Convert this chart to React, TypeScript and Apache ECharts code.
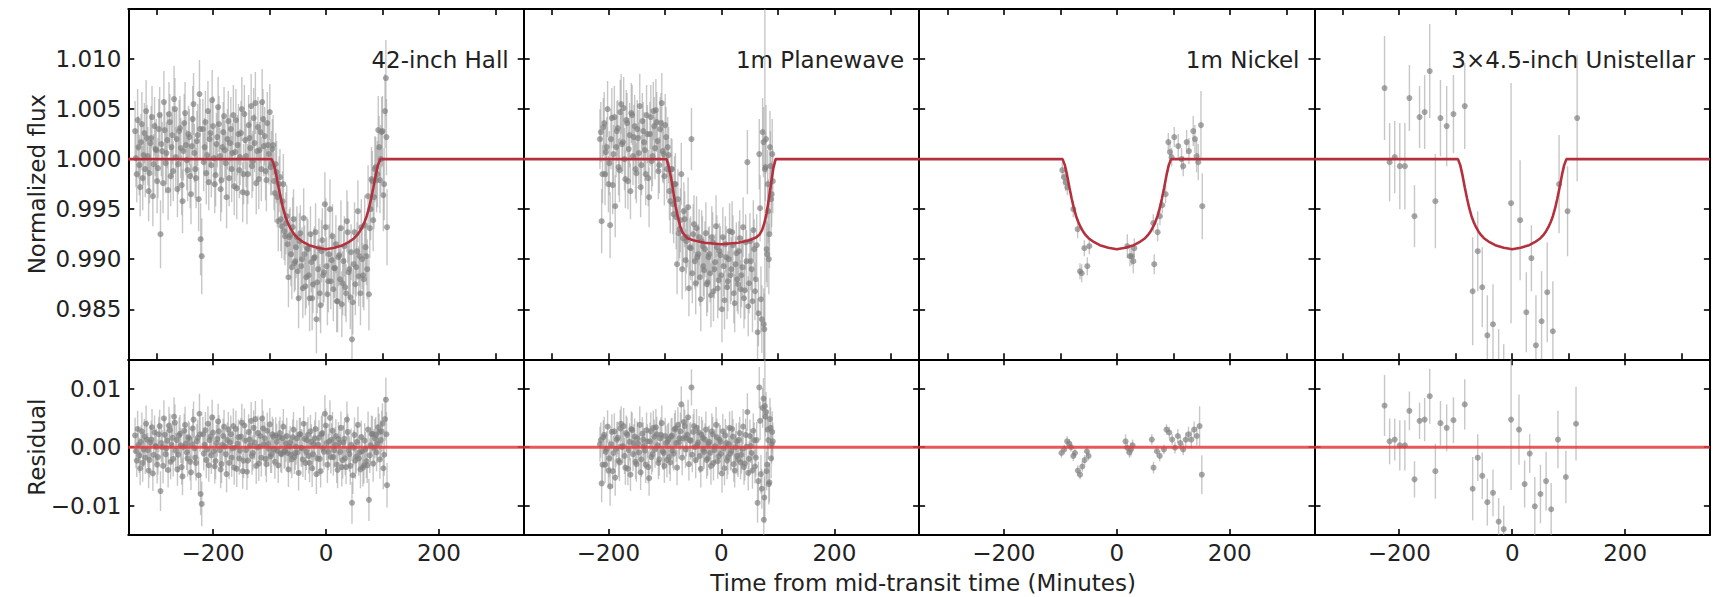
import React, { useEffect, useRef } from "react";
import * as echarts from "echarts";

const instruments = ["42-inch Hall", "1m Planewave", "1m Nickel", "3×4.5-inch Unistellar"];
const xRange = [-350, 350];
const fluxRange = [0.98, 1.015];
const residualRange = [-0.015, 0.015];
const xTicksTop = [-300, -200, -100, 0, 100, 200, 300];
const xTicksBottom = [-200, 0, 200];
const fluxTicks = [0.985, 0.99, 0.995, 1.0, 1.005, 1.01];
const residualTicks = [-0.01, 0, 0.01];
const xTitle = "Time from mid-transit time (Minutes)";
const fluxTitle = "Normalized flux";
const residualTitle = "Residual";

// [time (min), normalized flux, residual, error]
const hallData = [
  [-338, 1.0028, 0.002, 0.003], [-335, 0.9985, -0.0023, 0.0028], [-332, 1.0012, 0.0004, 0.0031], [-329, 0.9972, -0.0036, 0.0029],
  [-326, 1.0035, 0.0027, 0.0032], [-323, 1.0004, -0.0004, 0.003], [-320, 0.999, -0.0018, 0.0028], [-317, 1.0021, 0.0013, 0.0033],
  [-314, 0.9968, -0.004, 0.003], [-311, 1.0016, 0.0008, 0.0029], [-308, 1.0042, 0.0034, 0.0031], [-305, 0.9995, -0.0013, 0.003],
  [-302, 1.001, 0.0002, 0.0027], [-299, 0.9978, -0.003, 0.0032], [-296, 1.003, 0.0022, 0.003], [-293, 0.9925, -0.0075, 0.0034],
  [-290, 1.0008, 0.0, 0.0029], [-287, 1.0057, 0.0049, 0.0031], [-284, 0.9996, -0.0012, 0.003], [-281, 1.0019, 0.0011, 0.0028],
  [-278, 1.0045, 0.0037, 0.0032], [-275, 0.9983, -0.0025, 0.003], [-272, 1.0024, 0.0016, 0.0029], [-269, 1.006, 0.0052, 0.0033],
  [-266, 1.0002, -0.0006, 0.003], [-263, 0.997, -0.0038, 0.0028], [-260, 1.0028, 0.002, 0.0031], [-257, 1.0011, 0.0003, 0.003],
  [-254, 0.9958, -0.005, 0.0032], [-251, 1.0036, 0.0028, 0.0029], [-248, 1.0014, 0.0006, 0.003], [-245, 0.9989, -0.0019, 0.0031],
  [-242, 1.0022, 0.0014, 0.0028], [-239, 0.9965, -0.0043, 0.003], [-236, 1.004, 0.0032, 0.0033], [-233, 1.0006, -0.0002, 0.0029],
  [-230, 0.9981, -0.0027, 0.003], [-227, 1.0024, 0.0016, 0.0031], [-224, 1.0065, 0.0057, 0.0034], [-222, 0.992, -0.008, 0.0036],
  [-220, 0.9903, -0.0097, 0.0038], [-218, 1.003, 0.0022, 0.003], [-215, 1.0012, 0.0004, 0.0029], [-212, 0.9986, -0.0022, 0.0031],
  [-209, 1.0048, 0.004, 0.003], [-206, 1.002, 0.0012, 0.0028], [-203, 0.9994, -0.0014, 0.0032], [-200, 1.0033, 0.0025, 0.003],
  [-197, 0.9975, -0.0033, 0.0029], [-194, 1.0015, 0.0007, 0.0031], [-191, 1.0052, 0.0044, 0.003], [-188, 1.0003, -0.0005, 0.0028],
  [-185, 0.9979, -0.0029, 0.0032], [-182, 1.0027, 0.0019, 0.003], [-179, 1.0009, 0.0001, 0.0029], [-176, 0.9962, -0.0046, 0.0031],
  [-173, 1.0038, 0.003, 0.003], [-170, 1.0016, 0.0008, 0.0028], [-167, 0.999, -0.0018, 0.0033], [-164, 1.0044, 0.0036, 0.003],
  [-161, 1.0007, -0.0001, 0.0029], [-158, 0.9971, -0.0037, 0.0031], [-155, 1.0025, 0.0017, 0.003], [-152, 1.0002, -0.0006, 0.0028],
  [-149, 1.005, 0.0042, 0.0032], [-146, 0.9985, -0.0023, 0.003], [-143, 1.0019, 0.0011, 0.0029], [-140, 0.9966, -0.0042, 0.0031],
  [-137, 1.0034, 0.0026, 0.003], [-134, 1.0011, 0.0003, 0.0028], [-131, 0.9993, -0.0015, 0.0032], [-128, 1.0041, 0.0033, 0.003],
  [-125, 1.0056, 0.0048, 0.0031], [-122, 1.0008, 0.0, 0.0029], [-119, 0.998, -0.0028, 0.003], [-116, 1.0027, 0.0019, 0.0031],
  [-113, 1.0057, 0.0049, 0.0033], [-110, 1.0013, 0.0005, 0.003], [-107, 0.9988, -0.002, 0.0029], [-104, 1.0036, 0.0028, 0.0031],
  [-101, 1.0005, -0.0003, 0.003], [-98, 0.9992, -0.0016, 0.0028], [-95, 1.001, 0.0022, 0.003], [-92, 0.9978, -0.0004, 0.0029],
  [-89, 0.9995, 0.002, 0.0031], [-86, 0.9962, -0.0006, 0.003], [-83, 0.9975, 0.0017, 0.0028], [-80, 0.994, -0.0011, 0.0032],
  [-77, 0.9958, 0.0015, 0.003], [-74, 0.9928, -0.0008, 0.0029], [-71, 0.9936, 0.0006, 0.0031], [-68, 0.9915, -0.001, 0.003],
  [-65, 0.9922, 0.0001, 0.0028], [-62, 0.9905, -0.0013, 0.0032], [-59, 0.9932, 0.0017, 0.003], [-56, 0.9896, -0.0017, 0.0029],
  [-53, 0.9912, 0.0001, 0.0031], [-50, 0.9888, -0.0009, 0.003], [-47, 0.9918, 0.0022, 0.0028], [-44, 0.9893, -0.0001, 0.0032],
  [-41, 0.9871, -0.0021, 0.003], [-38, 0.9905, 0.0014, 0.0029], [-35, 0.9882, -0.0008, 0.0031], [-32, 0.991, 0.0021, 0.003],
  [-29, 0.9861, -0.0027, 0.0033], [-26, 0.9897, 0.0009, 0.003], [-23, 0.9875, -0.0012, 0.0029], [-20, 0.9902, 0.0015, 0.0031],
  [-17, 0.984, -0.0046, 0.0034], [-14, 0.989, 0.0004, 0.003], [-11, 0.9866, -0.002, 0.0029], [-8, 0.9908, 0.0022, 0.0031],
  [-5, 0.9884, -0.0002, 0.003], [-2, 0.9955, 0.0057, 0.0032], [1, 0.9893, 0.0007, 0.0029], [4, 0.9878, -0.0008, 0.0031],
  [7, 0.995, 0.005, 0.003], [10, 0.9899, 0.0013, 0.0028], [13, 0.987, -0.0017, 0.0032], [16, 0.9891, 0.0004, 0.003],
  [19, 0.9858, -0.003, 0.0031], [22, 0.9902, 0.0014, 0.0029], [25, 0.988, -0.0008, 0.003], [28, 0.9855, -0.0034, 0.0033],
  [31, 0.9898, 0.0008, 0.003], [34, 0.9872, -0.0019, 0.0029], [37, 0.9938, 0.0047, 0.0031], [40, 0.9887, -0.0005, 0.003],
  [43, 0.9862, -0.0032, 0.0032], [46, 0.982, -0.0095, 0.0036], [49, 0.9895, -0.0001, 0.003], [52, 0.9875, -0.0023, 0.0031],
  [55, 0.9908, 0.0009, 0.0029], [58, 0.9883, -0.0019, 0.003], [61, 0.9866, -0.0038, 0.0032], [64, 0.99, -0.0007, 0.003],
  [67, 0.988, -0.0031, 0.0031], [70, 0.9912, -0.0003, 0.0029], [73, 0.989, -0.0031, 0.003], [76, 0.9865, -0.009, 0.0036],
  [79, 0.995, 0.0003, 0.0031], [82, 0.9978, 0.0023, 0.003], [85, 0.9962, -0.0001, 0.0032], [88, 0.9992, 0.0021, 0.003],
  [91, 0.9985, 0.0006, 0.0033], [94, 1.0012, 0.0026, 0.0031], [97, 1.0, 0.0012, 0.0034], [100, 1.0028, 0.004, 0.0035],
  [103, 0.9975, -0.0013, 0.0036], [106, 1.0081, 0.0081, 0.0038], [108, 0.9932, -0.0065, 0.0038],
  [-336.5, 1.0001, -0.0007, 0.0029], [-333.5, 1.0039, 0.0031, 0.0031], [-330.5, 0.9994, -0.0014, 0.003], [-327.5, 1.0017, 0.0009, 0.0028],
  [-324.5, 0.9981, -0.0027, 0.0032], [-321.5, 1.0026, 0.0018, 0.003], [-318.5, 1.0048, 0.004, 0.0031], [-315.5, 1.0003, -0.0005, 0.0029],
  [-312.5, 0.9986, -0.0022, 0.003], [-309.5, 1.0021, 0.0013, 0.0032], [-306.5, 0.9963, -0.0045, 0.003], [-303.5, 1.0033, 0.0025, 0.0029],
  [-300.5, 1.0009, 0.0001, 0.0031], [-297.5, 0.9991, -0.0017, 0.003], [-294.5, 1.0044, 0.0036, 0.0028], [-291.5, 1.0015, 0.0007, 0.0032],
  [-288.5, 0.9976, -0.0032, 0.003], [-285.5, 1.0029, 0.0021, 0.0029], [-282.5, 1.0006, -0.0002, 0.0031], [-279.5, 0.9969, -0.0039, 0.003],
  [-276.5, 1.0037, 0.0029, 0.0028], [-273.5, 1.0012, 0.0004, 0.0032], [-270.5, 0.9988, -0.002, 0.003], [-267.5, 1.005, 0.0042, 0.0031],
  [-264.5, 1.002, 0.0012, 0.0029], [-261.5, 0.9995, -0.0013, 0.003], [-258.5, 1.0031, 0.0023, 0.0032], [-255.5, 0.9974, -0.0034, 0.003],
  [-252.5, 1.0008, 0.0, 0.0029], [-249.5, 1.0046, 0.0038, 0.0031], [-246.5, 0.9999, -0.0009, 0.003], [-243.5, 1.0025, 0.0017, 0.0028],
  [-240.5, 0.9983, -0.0025, 0.0032], [-237.5, 1.0013, 0.0005, 0.003], [-234.5, 1.0055, 0.0047, 0.0031], [-231.5, 0.999, -0.0018, 0.0029],
  [-228.5, 1.0018, 0.001, 0.003], [-225.5, 0.996, -0.0048, 0.0032], [-223, 1.003, 0.0022, 0.003], [-216.5, 0.9997, -0.0011, 0.0029],
  [-213.5, 1.0037, 0.0029, 0.0031], [-210.5, 1.0004, -0.0004, 0.003], [-207.5, 0.9977, -0.0031, 0.0028], [-204.5, 1.0026, 0.0018, 0.0032],
  [-201.5, 1.0059, 0.0051, 0.003], [-198.5, 1.0001, -0.0007, 0.0029], [-195.5, 0.9984, -0.0024, 0.0031], [-192.5, 1.0022, 0.0014, 0.003],
  [-189.5, 1.0035, 0.0027, 0.0028], [-186.5, 0.997, -0.0038, 0.0032], [-183.5, 1.0012, 0.0004, 0.003], [-180.5, 1.0043, 0.0035, 0.0029],
  [-177.5, 0.9996, -0.0012, 0.0031], [-174.5, 1.002, 0.0012, 0.003], [-171.5, 0.9981, -0.0027, 0.0028], [-168.5, 1.003, 0.0022, 0.0032],
  [-165.5, 1.0006, -0.0002, 0.003], [-162.5, 0.9973, -0.0035, 0.0029], [-159.5, 1.0039, 0.0031, 0.0031], [-156.5, 1.0014, 0.0006, 0.003],
  [-153.5, 0.9989, -0.0019, 0.0028], [-150.5, 1.0026, 0.0018, 0.0032], [-147.5, 0.9967, -0.0041, 0.003], [-144.5, 1.0045, 0.0037, 0.0029],
  [-141.5, 1.0003, -0.0005, 0.0031], [-138.5, 0.9985, -0.0023, 0.003], [-135.5, 1.0021, 0.0013, 0.0028], [-132.5, 1.0053, 0.0045, 0.0032],
  [-129.5, 0.9998, -0.001, 0.003], [-126.5, 1.0016, 0.0008, 0.0029], [-123.5, 0.9976, -0.0032, 0.0031], [-120.5, 1.0032, 0.0024, 0.003],
  [-117.5, 1.0009, 0.0001, 0.0028], [-114.5, 0.999, -0.0018, 0.0032], [-111.5, 1.004, 0.0032, 0.003], [-108.5, 1.0023, 0.0015, 0.0029],
  [-105.5, 0.9979, -0.0029, 0.0031], [-102.5, 1.0014, 0.0006, 0.003], [-99.5, 1.0047, 0.0039, 0.0028], [-96.5, 0.9996, -0.0012, 0.0032],
  [-93.5, 1.0014, 0.0018, 0.003], [-90.5, 0.9966, -0.0025, 0.0029], [-87.5, 0.9987, 0.0009, 0.0031], [-84.5, 0.9938, -0.0031, 0.003],
  [-81.5, 0.9982, 0.0024, 0.0028], [-78.5, 0.9933, -0.0012, 0.0032], [-75.5, 0.9975, 0.0035, 0.003], [-72.5, 0.9923, -0.0006, 0.0029],
  [-69.5, 0.9943, 0.0019, 0.0031], [-66.5, 0.9882, -0.0038, 0.003], [-63.5, 0.9924, 0.0008, 0.0028], [-60.5, 0.9892, -0.0021, 0.0032],
  [-57.5, 0.994, 0.003, 0.003], [-54.5, 0.9898, -0.001, 0.0029], [-51.5, 0.9922, 0.0015, 0.0031], [-48.5, 0.9861, -0.0044, 0.003],
  [-45.5, 0.9926, 0.0022, 0.0028], [-42.5, 0.99, -0.0002, 0.0032], [-39.5, 0.9941, 0.004, 0.003], [-36.5, 0.9873, -0.0027, 0.0029],
  [-33.5, 0.9911, 0.0012, 0.0031], [-30.5, 0.9884, -0.0015, 0.003], [-27.5, 0.9925, 0.0027, 0.0028], [-24.5, 0.9861, -0.0036, 0.0032],
  [-21.5, 0.9901, 0.0005, 0.003], [-18.5, 0.9927, 0.0031, 0.0029], [-15.5, 0.9877, -0.0019, 0.0031], [-12.5, 0.9911, 0.0016, 0.003],
  [-9.5, 0.9854, -0.0041, 0.0028], [-6.5, 0.9919, 0.0024, 0.0032], [-3.5, 0.9887, -0.0008, 0.003], [-0.5, 0.9932, 0.0037, 0.0029],
  [2.5, 0.9865, -0.003, 0.0031], [5.5, 0.9905, 0.001, 0.003], [8.5, 0.9878, -0.0017, 0.0028], [11.5, 0.9923, 0.0028, 0.0032],
  [14.5, 0.9891, -0.0005, 0.003], [17.5, 0.9915, 0.0019, 0.0029], [20.5, 0.9858, -0.0039, 0.0031], [23.5, 0.9904, 0.0007, 0.003],
  [26.5, 0.9931, 0.0033, 0.0028], [29.5, 0.9876, -0.0022, 0.0032], [32.5, 0.9913, 0.0014, 0.003], [35.5, 0.9866, -0.0034, 0.0029],
  [38.5, 0.9927, 0.0026, 0.0031], [41.5, 0.989, -0.0012, 0.003], [44.5, 0.9907, 0.0004, 0.0028], [47.5, 0.9857, -0.0048, 0.0032],
  [50.5, 0.9927, 0.0021, 0.003], [53.5, 0.9892, -0.0016, 0.0029], [56.5, 0.9948, 0.0038, 0.0031], [59.5, 0.9903, -0.0009, 0.003],
  [62.5, 0.9932, 0.0017, 0.0028], [65.5, 0.9884, -0.0035, 0.0032], [68.5, 0.9934, 0.0011, 0.003], [71.5, 0.9903, -0.0024, 0.0029],
  [74.5, 0.9963, 0.003, 0.0031], [77.5, 0.9931, -0.0014, 0.003], [80.5, 0.998, 0.0022, 0.0032], [83.5, 0.9939, -0.0028, 0.0031],
  [86.5, 0.999, 0.0015, 0.0033], [89.5, 0.9979, -0.0009, 0.0032], [92.5, 1.0029, 0.0034, 0.0034], [95.5, 0.9979, -0.0021, 0.0033],
  [98.5, 1.0027, 0.0027, 0.0035], [101.5, 0.9964, -0.0036, 0.0036], [104.5, 1.0048, 0.0048, 0.0037], [107, 1.0022, 0.0022, 0.0038],
];

// [time (min), normalized flux, residual, error]
const planewaveData = [
  [-215, 1.002, 0.0005, 0.003], [-212, 0.9938, -0.0062, 0.0032], [-209, 1.0032, 0.0017, 0.0029], [-206, 0.9985, -0.003, 0.0031],
  [-203, 1.0012, -0.0003, 0.003], [-200, 0.9975, -0.004, 0.0028], [-197, 0.9934, -0.0067, 0.0033], [-194, 1.0041, 0.0026, 0.003],
  [-191, 1.0005, -0.001, 0.0029], [-188, 0.9953, -0.0052, 0.0031], [-185, 1.0028, 0.0013, 0.003], [-182, 0.9992, -0.0023, 0.0028],
  [-179, 1.0047, 0.0032, 0.0032], [-176, 1.0015, 0.0, 0.003], [-173, 1.0051, 0.0036, 0.0031], [-170, 0.998, -0.0035, 0.0029],
  [-167, 1.0036, 0.0021, 0.003], [-164, 1.001, -0.0005, 0.0031], [-161, 0.9968, -0.0047, 0.0028], [-158, 1.0044, 0.0029, 0.003],
  [-155, 1.0022, 0.0007, 0.0032], [-152, 0.999, -0.0025, 0.003], [-149, 1.003, 0.0015, 0.0029], [-146, 1.0006, -0.0009, 0.0031],
  [-143, 0.9972, -0.0043, 0.003], [-140, 1.0038, 0.0023, 0.0028], [-137, 1.0017, 0.0002, 0.003], [-134, 0.9985, -0.003, 0.0031],
  [-131, 1.0025, 0.001, 0.0029], [-128, 0.9962, -0.0053, 0.003], [-125, 1.0042, 0.0027, 0.0032], [-122, 1.0003, -0.0012, 0.003],
  [-119, 1.0033, 0.0018, 0.0029], [-116, 1.0049, 0.0034, 0.0031], [-113, 1.0018, 0.0003, 0.003], [-110, 0.9994, -0.0021, 0.0028],
  [-107, 1.0036, 0.0021, 0.003], [-104, 1.0008, -0.0007, 0.0031], [-101, 0.9983, -0.0032, 0.0029], [-98, 1.0022, 0.0007, 0.003],
  [-95, 1.0012, 0.001, 0.003], [-92, 0.9968, -0.0017, 0.0029], [-89, 0.999, 0.0018, 0.0031], [-86, 0.9955, -0.0006, 0.003],
  [-83, 0.9975, 0.003, 0.0028], [-80, 0.9942, 0.0007, 0.0032], [-77, 0.996, 0.0038, 0.003], [-74, 0.993, 0.0015, 0.0029],
  [-71, 0.9985, 0.0073, 0.0031], [-68, 0.9921, 0.0015, 0.003], [-65, 0.994, 0.0036, 0.0028], [-62, 0.9918, 0.0016, 0.0032],
  [-59, 0.9952, 0.0051, 0.003], [-56, 0.9912, 0.0012, 0.0029], [-53, 1.002, 0.0102, 0.0031], [-50, 0.9925, 0.0026, 0.003],
  [-47, 0.9898, 0.0, 0.0028], [-44, 0.9931, 0.0033, 0.0032], [-41, 0.9905, 0.0008, 0.003], [-38, 0.9882, -0.0015, 0.0029],
  [-35, 0.9918, 0.0021, 0.0031], [-32, 0.9893, -0.0004, 0.003], [-29, 0.991, 0.0013, 0.0028], [-26, 0.9875, -0.0022, 0.0032],
  [-23, 0.9902, 0.0006, 0.003], [-20, 0.9886, -0.001, 0.0029], [-17, 0.9922, 0.0027, 0.0031], [-14, 0.9868, -0.0027, 0.003],
  [-11, 0.9897, 0.0002, 0.0028], [-8, 0.9912, 0.0017, 0.0032], [-5, 0.9879, -0.0016, 0.003], [-2, 0.9904, 0.0009, 0.0029],
  [1, 0.985, -0.0045, 0.0033], [4, 0.9893, -0.0002, 0.003], [7, 0.9915, 0.002, 0.0028], [10, 0.9872, -0.0023, 0.0032],
  [13, 0.99, 0.0005, 0.003], [16, 0.9884, -0.0011, 0.0029], [19, 0.9927, 0.0031, 0.0031], [22, 0.9866, -0.0029, 0.003],
  [25, 0.9895, 0.0, 0.0028], [28, 0.988, -0.0015, 0.0032], [31, 0.9908, 0.0012, 0.003], [34, 0.987, -0.0026, 0.0029],
  [37, 0.9892, -0.0003, 0.0031], [40, 0.9861, -0.0034, 0.003], [43, 0.9917, 0.0021, 0.0028], [46, 0.9997, 0.006, 0.0032],
  [49, 0.9876, -0.002, 0.003], [52, 0.9898, 0.0002, 0.0029], [55, 0.9858, -0.004, 0.0031], [58, 0.991, 0.0012, 0.003],
  [61, 0.988, -0.0018, 0.0032], [64, 0.9827, -0.0095, 0.0034], [67, 1.0005, 0.0102, 0.0035], [70, 0.986, -0.0046, 0.0033],
  [73, 1.0027, 0.0067, 0.0034], [75, 0.9835, -0.0124, 0.0036], [77, 0.999, 0.007, 0.02], [79, 1.002, 0.006, 0.0034],
  [81, 0.9905, -0.003, 0.0033], [83, 0.9948, 0.0012, 0.0032], [85, 0.9925, -0.006, 0.0034], [87, 0.9993, 0.0033, 0.0035],
  [89, 0.9965, 0.0005, 0.0033], [91, 0.9978, 0.001, 0.0032],
  [-213.5, 1.0027, 0.0012, 0.003], [-210.5, 0.9985, -0.003, 0.0029], [-207.5, 1.0036, 0.0021, 0.0031], [-204.5, 1.0007, -0.0008, 0.003],
  [-201.5, 1.005, 0.0035, 0.0028], [-198.5, 0.9996, -0.0019, 0.0032], [-195.5, 1.002, 0.0005, 0.003], [-192.5, 0.9974, -0.0041, 0.0029],
  [-189.5, 1.0042, 0.0027, 0.0031], [-186.5, 1.0012, -0.0003, 0.003], [-183.5, 1.0031, 0.0016, 0.0028], [-180.5, 0.9989, -0.0026, 0.0032],
  [-177.5, 1.0055, 0.004, 0.003], [-174.5, 1.0017, 0.0002, 0.0029], [-171.5, 1.0, -0.0015, 0.0031], [-168.5, 1.0039, 0.0024, 0.003],
  [-165.5, 0.9978, -0.0037, 0.0028], [-162.5, 1.0024, 0.0009, 0.0032], [-159.5, 1.0046, 0.0031, 0.003], [-156.5, 1.0003, -0.0012, 0.0029],
  [-153.5, 1.0033, 0.0018, 0.0031], [-150.5, 0.9986, -0.0029, 0.003], [-147.5, 1.0021, 0.0006, 0.0028], [-144.5, 1.0053, 0.0038, 0.0032],
  [-141.5, 0.9994, -0.0021, 0.003], [-138.5, 1.0028, 0.0013, 0.0029], [-135.5, 1.0009, -0.0006, 0.0031], [-132.5, 1.0044, 0.0029, 0.003],
  [-129.5, 0.9981, -0.0034, 0.0028], [-126.5, 1.0025, 0.001, 0.0032], [-123.5, 0.9998, -0.0017, 0.003], [-120.5, 1.0048, 0.0033, 0.0029],
  [-117.5, 1.0011, -0.0004, 0.0031], [-114.5, 1.0037, 0.0022, 0.003], [-111.5, 0.9988, -0.0027, 0.0028], [-108.5, 1.003, 0.0015, 0.0032],
  [-105.5, 1.0056, 0.0041, 0.003], [-102.5, 1.0005, -0.001, 0.0029], [-99.5, 1.0034, 0.0019, 0.0031], [-96.5, 0.999, -0.0022, 0.003],
  [-93.5, 1.0004, 0.0014, 0.0028], [-90.5, 0.9958, -0.0026, 0.0032], [-87.5, 0.999, 0.002, 0.003], [-84.5, 0.9945, -0.0011, 0.0029],
  [-81.5, 0.9975, 0.0032, 0.0031], [-78.5, 0.9895, -0.0035, 0.003], [-75.5, 0.9926, 0.0008, 0.0028], [-72.5, 0.9939, 0.0027, 0.0032],
  [-69.5, 0.989, -0.0018, 0.003], [-66.5, 0.9948, 0.0043, 0.0029], [-63.5, 0.9899, -0.0004, 0.0031], [-60.5, 0.9922, 0.0021, 0.003],
  [-57.5, 0.9871, -0.0029, 0.0028], [-54.5, 0.9911, 0.0011, 0.0032], [-51.5, 0.9886, -0.0013, 0.003], [-48.5, 0.9935, 0.0036, 0.0029],
  [-45.5, 0.9876, -0.0022, 0.0031], [-42.5, 0.9902, 0.0004, 0.003], [-39.5, 0.9922, 0.0025, 0.0028], [-36.5, 0.986, -0.0037, 0.0032],
  [-33.5, 0.9913, 0.0016, 0.003], [-30.5, 0.9889, -0.0008, 0.0029], [-27.5, 0.9926, 0.003, 0.0031], [-24.5, 0.9877, -0.0019, 0.003],
  [-21.5, 0.9905, 0.0009, 0.0028], [-18.5, 0.9864, -0.0032, 0.0032], [-15.5, 0.9917, 0.0022, 0.003], [-12.5, 0.989, -0.0005, 0.0029],
  [-9.5, 0.9933, 0.0038, 0.0031], [-6.5, 0.9871, -0.0024, 0.003], [-3.5, 0.9908, 0.0013, 0.0028], [-0.5, 0.9884, -0.0011, 0.0032],
  [2.5, 0.9922, 0.0027, 0.003], [5.5, 0.9859, -0.0036, 0.0029], [8.5, 0.9902, 0.0007, 0.0031], [11.5, 0.9878, -0.0017, 0.003],
  [14.5, 0.9928, 0.0033, 0.0028], [17.5, 0.989, -0.0006, 0.0032], [20.5, 0.9914, 0.0018, 0.003], [23.5, 0.9856, -0.004, 0.0029],
  [26.5, 0.9906, 0.001, 0.0031], [29.5, 0.9875, -0.0021, 0.003], [32.5, 0.9921, 0.0024, 0.0028], [35.5, 0.9884, -0.0013, 0.0032],
  [38.5, 0.9932, 0.0035, 0.003], [41.5, 0.9869, -0.0028, 0.0029], [44.5, 0.9898, 0.0001, 0.0031], [47.5, 0.9853, -0.0044, 0.003],
  [50.5, 0.9918, 0.0019, 0.0028], [53.5, 0.989, -0.001, 0.0032], [56.5, 0.9929, 0.0028, 0.003], [59.5, 0.9868, -0.0033, 0.0029],
  [62.5, 0.9914, 0.0012, 0.0031], [65.5, 0.9846, -0.0058, 0.0033], [68.5, 0.9951, 0.0045, 0.0033], [71.5, 0.984, -0.0071, 0.0034],
  [74.5, 1.0017, 0.0083, 0.0035], [76, 0.983, -0.0086, 0.0036], [78, 0.9992, 0.0052, 0.0034], [80, 0.991, -0.0041, 0.0033],
  [82, 0.9975, 0.003, 0.0034], [84, 0.99, -0.0063, 0.0035], [86, 1.0012, 0.0048, 0.0036], [88, 0.996, -0.0019, 0.0034],
  [90, 1.0005, 0.0026, 0.0035],
];

// [time (min), normalized flux, error]
const nickelFlux = [
  [-96.5, 0.9989, 0.0008], [-93.5, 0.9982, 0.0008], [-90.6, 0.9977, 0.0009], [-87.6, 0.9972, 0.0008],
  [-77, 0.995, 0.0008], [-69.3, 0.993, 0.0009], [-65.2, 0.9888, 0.0008], [-62.2, 0.9886, 0.0009],
  [-57.5, 0.9911, 0.0008], [-52.2, 0.9893, 0.0009], [-48.7, 0.9913, 0.0008], [18.6, 0.9913, 0.0012],
  [23.3, 0.9903, 0.001], [26.3, 0.9903, 0.0009], [29.2, 0.9898, 0.0012], [31, 0.9911, 0.001],
  [64.6, 0.9936, 0.0009], [66.3, 0.9895, 0.001], [72.3, 0.9927, 0.0009], [76.4, 0.9943, 0.0009],
  [80.5, 0.9954, 0.0008], [86.4, 0.9965, 0.0009], [91.2, 1.0017, 0.0009], [94.1, 1.0007, 0.001],
  [97, 1.0002, 0.0009], [101.7, 1.0022, 0.001], [108.8, 1.0013, 0.0012], [114.7, 1.0, 0.0011],
  [117.6, 0.9993, 0.001], [123.6, 1.0017, 0.0012], [127.7, 1.0008, 0.0013], [135.3, 1.0028, 0.0015],
  [138.3, 1.002, 0.0014], [141.3, 1.0003, 0.0016], [144.2, 0.9997, 0.0018], [149, 1.0034, 0.0034],
  [151.3, 0.9953, 0.0033],
];
// [time (min), residual, error]
const nickelResidual = [
  [-98, -0.001, 0.0008], [-93, -0.0004, 0.0008], [-88, 0.001, 0.0009], [-84, 0.0006, 0.0008],
  [-81, 0.0, 0.0008], [-77, -0.0015, 0.0009], [-74, -0.001, 0.0008], [-69, -0.004, 0.0009],
  [-65, -0.0047, 0.0008], [-61, -0.0033, 0.0009], [-57, -0.0022, 0.0008], [-53, -0.0007, 0.0009],
  [-50, -0.0015, 0.0008], [15.5, 0.001, 0.0012], [18.4, -0.0001, 0.001], [22.3, -0.0009, 0.0009],
  [25, -0.0004, 0.0012], [28, 0.0003, 0.001], [62, 0.0013, 0.0009], [65, -0.0035, 0.001],
  [71, -0.0007, 0.0009], [76, -0.0015, 0.0009], [83.5, -0.0004, 0.0008], [88, 0.003, 0.0009],
  [93, 0.0025, 0.001], [98, 0.0013, 0.0009], [103, -0.0001, 0.001], [108, 0.0019, 0.0012],
  [112.6, 0.0007, 0.0011], [117.5, -0.0004, 0.001], [122, 0.0013, 0.0012], [127, 0.0022, 0.0013],
  [132, 0.0013, 0.0015], [136.9, 0.003, 0.0014], [141.7, 0.0019, 0.0016], [146.6, 0.0036, 0.0034],
  [150.5, -0.0047, 0.0033],
];

// [time (min), normalized flux, error]
const unistellarFlux = [
  [-226, 1.0071, 0.0052], [-217, 0.9997, 0.0039], [-208, 1.0002, 0.0036], [-199, 0.9993, 0.0043],
  [-190, 0.9993, 0.0043], [-182, 1.0061, 0.0033], [-173, 0.9943, 0.0031], [-164, 1.0042, 0.0031],
  [-155, 1.0047, 0.0037], [-146, 1.0088, 0.0047], [-136, 0.9958, 0.0047], [-127, 1.0041, 0.0038],
  [-116, 1.0033, 0.004], [-104, 1.0045, 0.0039], [-84, 1.0053, 0.0043], [-70, 0.9868, 0.0054],
  [-61, 0.9908, 0.004], [-53, 0.9872, 0.004], [-44, 0.9824, 0.004], [-34, 0.9835, 0.004],
  [-24, 0.979, 0.004], [-15, 0.9775, 0.004], [-2, 0.9956, 0.012], [14, 0.9939, 0.006],
  [25, 0.9847, 0.004], [34, 0.9901, 0.0033], [42, 0.9814, 0.005], [52, 0.9838, 0.005],
  [62, 0.9867, 0.005], [72, 0.9828, 0.005], [83, 0.9975, 0.0049], [98, 0.9948, 0.0045],
  [115, 1.0041, 0.0063],
];
// [time (min), residual, error]
const unistellarResidual = [
  [-226, 0.0071, 0.0052], [-217, 0.001, 0.0039], [-208, 0.0013, 0.0036], [-199, 0.0003, 0.0043],
  [-190, 0.0003, 0.0043], [-182, 0.0062, 0.0033], [-173, -0.0055, 0.0031], [-164, 0.0045, 0.0031],
  [-155, 0.0047, 0.0037], [-146, 0.0087, 0.0047], [-136, -0.0041, 0.0047], [-127, 0.0041, 0.0038],
  [-116, 0.0033, 0.004], [-104, 0.0046, 0.0039], [-84, 0.0073, 0.0043], [-70, -0.0071, 0.0054],
  [-61, -0.0018, 0.004], [-53, -0.0049, 0.004], [-44, -0.0094, 0.004], [-34, -0.0078, 0.004],
  [-24, -0.0127, 0.004], [-15, -0.014, 0.004], [-2, 0.0047, 0.012], [12, 0.003, 0.006],
  [22, -0.0063, 0.004], [31, -0.0011, 0.0033], [40, -0.0101, 0.005], [50, -0.008, 0.005],
  [60, -0.0058, 0.005], [69, -0.0106, 0.0045], [81, 0.0013, 0.0049], [95, -0.0051, 0.0045],
  [113, 0.004, 0.0063],
];

// best-fit transit model [time, flux]
const transitModel = [
  [-350, 1.0], [-96, 1.0], [-92, 0.9994], [-88, 0.9984], [-84, 0.9972], [-80, 0.9961], [-76, 0.9951],
  [-72, 0.9943], [-68, 0.9937], [-64, 0.9932], [-60, 0.9928], [-55, 0.9924], [-50, 0.9921], [-40, 0.9917],
  [-30, 0.9914], [-15, 0.99115], [0, 0.991], [15, 0.99115], [30, 0.9914], [40, 0.9917], [50, 0.9921],
  [55, 0.9924], [60, 0.9928], [64, 0.9932], [68, 0.9937], [72, 0.9943], [76, 0.9951], [80, 0.9961],
  [84, 0.9972], [88, 0.9984], [92, 0.9994], [96, 1.0], [350, 1.0],
];
const planewaveModel = [
  [-350, 1.0], [-97, 1.0], [-93, 0.9992], [-89, 0.9981], [-85, 0.9967], [-81, 0.9953], [-77, 0.9942],
  [-73, 0.9933], [-69, 0.9927], [-65, 0.9924], [-60, 0.9921], [-50, 0.9919], [-30, 0.99165], [0, 0.9915],
  [30, 0.99165], [50, 0.9919], [62, 0.9922], [68, 0.9925], [72, 0.9929], [76, 0.9936], [80, 0.9946],
  [84, 0.996], [88, 0.9976], [92, 0.9991], [96, 1.0], [350, 1.0],
];
const zeroLine = [[-350, 0], [350, 0]];

const FONT = "DejaVu Sans";
const TEXT = "#222";
const L0 = 128.3;
const PW = 395.4;
const TOP = 9;
const TOP_H = 350.3;
const BOT_H = 175.7;

function minusFmt(s: string) {
  return s.replace("-", "\u2212");
}

export default function App() {
  const ref = useRef<HTMLDivElement>(null);
  useEffect(() => {
    if (!ref.current) return;
    const chart = echarts.init(ref.current, undefined, { renderer: "svg" });

    const panels = [
      { flux: hallData.map((d) => [d[0], d[1], d[3]]), res: hallData.map((d) => [d[0], d[2], d[3]]), model: transitModel },
      { flux: planewaveData.map((d) => [d[0], d[1], d[3]]), res: planewaveData.map((d) => [d[0], d[2], d[3]]), model: planewaveModel },
      { flux: nickelFlux, res: nickelResidual, model: transitModel },
      { flux: unistellarFlux, res: unistellarResidual, model: transitModel },
    ];

    const grids: any[] = [];
    const xAxes: any[] = [];
    const yAxes: any[] = [];
    const series: any[] = [];
    const graphics: any[] = [];

    const errRender = (lo: number, hi: number) => (params: any, api: any) => {
      const t = api.value(0);
      const v = api.value(1);
      const e = api.value(2);
      const a = Math.max(v - e, lo);
      const b = Math.min(v + e, hi);
      if (a >= b) return null;
      const p1 = api.coord([t, a]);
      const p2 = api.coord([t, b]);
      return {
        type: "line",
        silent: true,
        shape: { x1: p1[0], y1: p1[1], x2: p2[0], y2: p2[1] },
        style: { stroke: "rgba(165,165,165,0.62)", lineWidth: 1.4 },
      };
    };

    for (let row = 0; row < 2; row++) {
      for (let col = 0; col < 4; col++) {
        const g = row * 4 + col;
        const isTop = row === 0;
        grids.push({
          left: L0 + col * PW,
          width: PW,
          top: isTop ? TOP : TOP + TOP_H,
          height: isTop ? TOP_H : BOT_H,
        });
        const xt = isTop ? xTicksTop : xTicksBottom;
        const axisLine = { show: true, onZero: false, lineStyle: { color: "#000", width: 2 } };
        const tick = (vals: number[]) => ({ show: true, inside: true, length: 6, lineStyle: { color: "#000", width: 1.6 }, customValues: vals });
        xAxes.push({
          type: "value", gridIndex: g, position: "bottom", min: xRange[0], max: xRange[1],
          splitLine: { show: false }, axisLine, axisTick: tick(xt),
          axisLabel: !isTop
            ? { show: true, customValues: xTicksBottom, fontSize: 23, fontFamily: FONT, color: TEXT, margin: 6, formatter: (v: number) => minusFmt(String(v)) }
            : { show: false },
        });
        xAxes.push({
          type: "value", gridIndex: g, position: "top", min: xRange[0], max: xRange[1],
          splitLine: { show: false }, axisLine, axisTick: tick(xt), axisLabel: { show: false },
        });
        const yr = isTop ? fluxRange : residualRange;
        const yt = isTop ? fluxTicks : residualTicks;
        yAxes.push({
          type: "value", gridIndex: g, position: "left", min: yr[0], max: yr[1],
          splitLine: { show: false }, axisLine, axisTick: tick(yt),
          axisLabel: col === 0
            ? { show: true, customValues: yt, fontSize: 23, fontFamily: FONT, color: TEXT, margin: 7, formatter: (v: number) => minusFmt(v.toFixed(isTop ? 3 : 2)) }
            : { show: false },
        });
        yAxes.push({
          type: "value", gridIndex: g, position: "right", min: yr[0], max: yr[1],
          splitLine: { show: false }, axisLine, axisTick: tick(yt), axisLabel: { show: false },
        });

        const p = panels[col];
        const pts = isTop ? p.flux : p.res;
        series.push({
          type: "custom", xAxisIndex: 2 * g, yAxisIndex: 2 * g, data: pts, clip: true,
          encode: { x: 0, y: 1 }, renderItem: errRender(yr[0], yr[1]), z: 2, silent: true,
        });
        series.push({
          type: "scatter", xAxisIndex: 2 * g, yAxisIndex: 2 * g, data: pts.map((d) => [d[0], d[1]]),
          symbolSize: 6, itemStyle: { color: "rgba(125,125,125,0.85)" }, z: 3, silent: true, clip: true,
        });
        series.push({
          type: "line", xAxisIndex: 2 * g, yAxisIndex: 2 * g, data: isTop ? p.model : zeroLine,
          showSymbol: false, symbol: "none", clip: true, silent: true, z: 4,
          lineStyle: isTop ? { color: "#b5303d", width: 2.6 } : { color: "#e23b40", width: 3, opacity: 0.85 },
        });
      }
    }

    instruments.forEach((name, col) => {
      graphics.push({
        type: "text", x: L0 + (col + 1) * PW - 15, y: 60, silent: true,
        style: { text: name, fontSize: 23, fontFamily: FONT, fill: TEXT, align: "right", verticalAlign: "middle" },
      });
    });
    graphics.push({
      type: "text", x: 37, y: TOP + TOP_H / 2, rotation: Math.PI / 2, silent: true,
      style: { text: fluxTitle, fontSize: 23, fontFamily: FONT, fill: TEXT, align: "center", verticalAlign: "middle" },
    });
    graphics.push({
      type: "text", x: 37, y: TOP + TOP_H + BOT_H / 2, rotation: Math.PI / 2, silent: true,
      style: { text: residualTitle, fontSize: 23, fontFamily: FONT, fill: TEXT, align: "center", verticalAlign: "middle" },
    });
    graphics.push({
      type: "text", x: L0 + 2 * PW + 4, y: 583, silent: true,
      style: { text: xTitle, fontSize: 23, fontFamily: FONT, fill: TEXT, align: "center", verticalAlign: "middle" },
    });

    chart.setOption({
      animation: false,
      backgroundColor: "#fff",
      grid: grids,
      xAxis: xAxes,
      yAxis: yAxes,
      series,
      graphic: graphics,
    });
    return () => chart.dispose();
  }, []);
  return <div ref={ref} style={{ position: "absolute", left: 0, top: 0, width: 1713, height: 597 }} />;
}
